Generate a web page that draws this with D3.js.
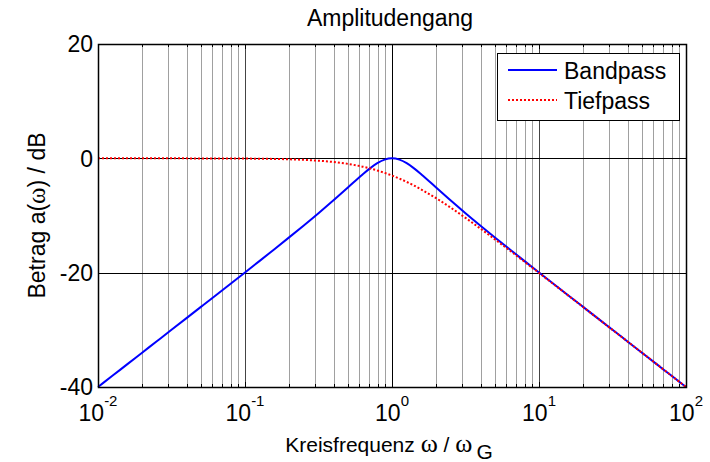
<!DOCTYPE html>
<html>
<head>
<meta charset="utf-8">
<script src="https://cdn.jsdelivr.net/npm/d3@7"></script>
<style>
  body { margin: 0; background: #fff; }
  svg { font-family: "Liberation Sans", Arial, sans-serif; }
</style>
</head>
<body>
<div id="chart"></div>
<script>
// log10 of omega / omega_G where the curves were read
const logW = [-2, -1.9, -1.8, -1.7, -1.6, -1.5, -1.4, -1.3, -1.2, -1.1, -1, -0.9, -0.8, -0.7, -0.6, -0.5, -0.4, -0.3, -0.2, -0.15, -0.1, -0.05,
  0, 0.05, 0.1, 0.15, 0.2, 0.3, 0.4, 0.5, 0.6, 0.7, 0.8, 0.9, 1, 1.1, 1.2, 1.3, 1.4, 1.5, 1.6, 1.7, 1.8, 1.9, 2]

// magnitude in dB
const bandpass = [-40, -37.999, -35.999, -33.998, -31.997, -29.996, -27.993, -25.989, -23.983, -21.973, -19.957, -17.932, -15.892, -13.831, -11.736, -9.59, -7.378, -5.095, -2.81, -1.751, -0.849, -0.225,
  0, -0.225, -0.849, -1.751, -2.81, -5.095, -7.378, -9.59, -11.736, -13.831, -15.892, -17.932, -19.957, -21.973, -23.983, -25.989, -27.993, -29.996, -31.997, -33.998, -35.999, -37.999, -40]
const tiefpass = [0, -0.001, -0.001, -0.002, -0.003, -0.004, -0.007, -0.011, -0.017, -0.027, -0.043, -0.068, -0.108, -0.17, -0.266, -0.414, -0.639, -0.973, -1.455, -1.76, -2.124, -2.54,
  -3.01, -3.54, -4.124, -4.76, -5.455, -6.973, -8.639, -10.414, -12.266, -14.17, -16.108, -18.068, -20.043, -22.027, -24.017, -26.011, -28.007, -30.004, -32.003, -34.002, -36.001, -38.001, -40]

const xTicks = [0.01, 0.1, 1, 10, 100]
const xTickExp = ['-2', '-1', '0', '1', '2']
const yTicks = [-40, -20, 0, 20]
const seriesNames = ['Bandpass', 'Tiefpass']

const W = 710, H = 462
const margin = {top: 44, right: 24, bottom: 75, left: 98}
const iw = W - margin.left - margin.right
const ih = H - margin.top - margin.bottom

const svg = d3.select('#chart').append('svg')
  .attr('width', W).attr('height', H)

const g = svg.append('g').attr('transform', `translate(${margin.left},${margin.top})`)

const x = d3.scaleLog().domain([0.01, 100]).range([0, iw])
const y = d3.scaleLinear().domain([-40, 20]).range([ih, 0])

// minor grid: 2..9 in every decade
const minor = []
for (let e = -2; e < 2; e++) for (let k = 2; k <= 9; k++) minor.push(k * Math.pow(10, e))

g.selectAll('.minor').data(minor).enter().append('line')
  .attr('x1', d => Math.round(x(d)) + 0.5).attr('x2', d => Math.round(x(d)) + 0.5)
  .attr('y1', 0).attr('y2', ih)
  .attr('stroke', '#a0a0a0').attr('stroke-width', 1)

g.selectAll('.major').data(xTicks.slice(1, -1)).enter().append('line')
  .attr('x1', d => Math.round(x(d)) + 0.5).attr('x2', d => Math.round(x(d)) + 0.5)
  .attr('y1', 0).attr('y2', ih)
  .attr('stroke', d => d === 1 ? '#000' : '#444').attr('stroke-width', 1)

g.selectAll('.hgrid').data(yTicks.slice(1, -1)).enter().append('line')
  .attr('x1', 0).attr('x2', iw)
  .attr('y1', d => Math.round(y(d)) + 0.5).attr('y2', d => Math.round(y(d)) + 0.5)
  .attr('stroke', '#000').attr('stroke-width', 1)

// small inward ticks on top and bottom
const allX = xTicks.concat(minor)
const tickG = g.append('g').attr('stroke', '#000').attr('stroke-width', 1)
allX.forEach(d => {
  const px = Math.round(x(d)) + 0.5
  const len = xTicks.includes(d) ? 5 : 3
  tickG.append('line').attr('x1', px).attr('x2', px).attr('y1', ih).attr('y2', ih - len)
  tickG.append('line').attr('x1', px).attr('x2', px).attr('y1', 0).attr('y2', len)
})
yTicks.forEach(d => {
  const py = Math.round(y(d)) + 0.5
  tickG.append('line').attr('x1', 0).attr('x2', 5).attr('y1', py).attr('y2', py)
  tickG.append('line').attr('x1', iw).attr('x2', iw - 5).attr('y1', py).attr('y2', py)
})

// curves
const pts = s => logW.map((lw, i) => [Math.pow(10, lw), s[i]])
const line = d3.line().x(d => x(d[0])).y(d => y(d[1])).curve(d3.curveMonotoneX)

g.append('path').datum(pts(bandpass))
  .attr('d', line).attr('fill', 'none')
  .attr('stroke', '#0000ff').attr('stroke-width', 2)

g.append('path').datum(pts(tiefpass))
  .attr('d', line).attr('fill', 'none')
  .attr('stroke', '#ff0000').attr('stroke-width', 2)
  .attr('stroke-dasharray', '2,2')

// axes box
g.append('rect').attr('x', 0.5).attr('y', 0.5).attr('width', iw).attr('height', ih)
  .attr('fill', 'none').attr('stroke', '#000').attr('stroke-width', 1.5)

// y tick labels
g.selectAll('.ylab').data(yTicks).enter().append('text')
  .attr('x', -5).attr('y', d => y(d))
  .attr('dy', '0.36em').attr('text-anchor', 'end')
  .attr('font-size', 23).text(d => d)

// x tick labels 10^n
xTicks.forEach((d, i) => {
  const t = g.append('text')
    .attr('x', x(d)).attr('y', ih + 34)
    .attr('text-anchor', 'middle').attr('font-size', 23)
  t.append('tspan').text('10')
  t.append('tspan').attr('dy', -15).attr('font-size', 15).text(xTickExp[i])
})

// title
svg.append('text')
  .attr('x', 390).attr('y', 26)
  .attr('text-anchor', 'middle').attr('font-size', 23)
  .text('Amplitudengang')

// x label
const xl = svg.append('text')
  .attr('x', 389).attr('y', 452)
  .attr('text-anchor', 'middle').attr('font-size', 21)
xl.append('tspan').text('Kreisfrequenz ')
xl.append('tspan').attr('font-family', '"Liberation Serif", serif').attr('font-size', 26).text('ω')
xl.append('tspan').text(' / ')
xl.append('tspan').attr('font-family', '"Liberation Serif", serif').attr('font-size', 26).text('ω')
xl.append('tspan').attr('dx', 4).attr('dy', 7).attr('font-size', 21).text('G')

// y label
const yl = svg.append('text')
  .attr('transform', `translate(45,${margin.top + ih / 2}) rotate(-90)`)
  .attr('text-anchor', 'middle').attr('font-size', 23)
yl.append('tspan').text('Betrag a(')
yl.append('tspan').attr('font-family', '"Liberation Serif", serif').attr('font-size', 25).text('ω')
yl.append('tspan').text(') / dB')

// legend
const lg = g.append('g').attr('transform', `translate(${iw - 189},9)`)
lg.append('rect').attr('x', 0.5).attr('y', 0.5).attr('width', 182).attr('height', 67)
  .attr('fill', '#fff').attr('stroke', '#000').attr('stroke-width', 1)
const legStyle = [{c: '#0000ff', dash: null}, {c: '#ff0000', dash: '2,2'}]
seriesNames.forEach((n, i) => {
  const ly = 17 + i * 30
  lg.append('line').attr('x1', 11).attr('x2', 60).attr('y1', ly).attr('y2', ly)
    .attr('stroke', legStyle[i].c).attr('stroke-width', 2)
    .attr('stroke-dasharray', legStyle[i].dash)
  lg.append('text').attr('x', 67).attr('y', ly + 1).attr('dy', '0.36em')
    .attr('font-size', 23).text(n)
})
</script>
</body>
</html>
